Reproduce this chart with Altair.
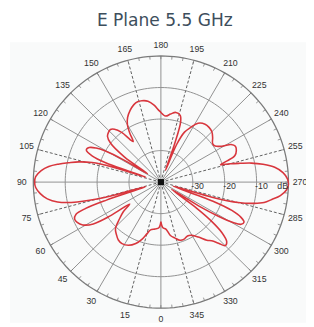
import altair as alt
import pandas as pd
import numpy as np

TITLE = "E Plane 5.5 GHz"

# radiation pattern: (angle deg, gain dB)
pattern_points = [
    (0, -27.5), (2.5, -25.5), (7, -25), (12, -24.5), (15, -23), (18, -21), (22, -19),
    (27, -17.5), (32, -17), (36, -17.3), (40, -18.3), (44, -19.5), (48, -22.5), (51.5, -25),
    (54.5, -28), (56, -21), (58, -15), (61, -12), (64, -10.8), (66.5, -10.5), (69, -11.5),
    (70.5, -15), (71.5, -22), (73, -35), (74.5, -22), (76.5, -13), (79, -7), (81.5, -4),
    (84.5, -2), (87.5, -0.7), (90, -0.4), (92.5, -0.7), (95.5, -2.3), (98, -4.5), (100, -7.3),
    (102, -10.5), (104, -13.5), (106, -17.5), (107.5, -24), (108.5, -35), (109.5, -22),
    (111, -17), (113.5, -14.5), (116, -15), (118, -17), (119.5, -20), (121, -26), (122.5, -35),
    (125, -26), (128, -20), (131, -17.8), (134, -17.2), (136.5, -17), (139, -17.8), (142, -20),
    (144.5, -23.5), (146, -24.5), (148, -21.5), (150, -19), (153, -17), (157, -15.3),
    (161, -14), (164, -13.5), (167, -13.5), (171, -14), (175, -15.5), (179, -17.5), (184, -19),
    (188, -18.2), (192, -17.4), (196, -18), (198, -20), (199.5, -27), (201, -36), (202.5, -27),
    (205, -22.5), (208, -20.5), (212, -18), (217, -17), (221, -17), (225, -17.4), (229, -18.5),
    (233, -19.7), (236, -19.5), (239.5, -17.5), (241.5, -15), (244, -14), (247, -14.3),
    (250, -15.3), (252, -18), (253.5, -20.5), (255, -17.5), (256.5, -14.5), (258, -11),
    (260, -7.5), (262.5, -4), (265.5, -1.6), (268.5, -0.3), (271, 0), (273.5, -0.5),
    (276.5, -2.3), (279, -4.8), (281.3, -7), (283, -10), (285, -15), (286.5, -22), (288.5, -36),
    (290.5, -22), (292, -16), (294, -12.5), (296, -11), (298, -11.5), (299.5, -14), (301, -19),
    (302.5, -26), (304.5, -36), (306.5, -26), (308, -20), (310, -15), (312.5, -12),
    (315, -11.5), (317, -13.5), (319.5, -15.5), (322, -16.6), (326, -19), (330, -20.5),
    (334, -21), (338, -20.5), (342, -20.6), (346, -21.7), (350, -22.8), (354, -25),
    (357.5, -25.5), (360, -27.5),
]
angles = [p[0] for p in pattern_points]
gains = [p[1] for p in pattern_points]

ring_db = [-30, -20, -10, 0]
ring_text = ["-30", "-20", "-10"]
unit_text = "dB"
spoke_angles = list(range(0, 360, 15))
dashed_spokes = [15, 75, 105, 165, 195, 255, 285, 345]
angle_text = [str(a) for a in spoke_angles]

DB_MIN, DB_MAX = -40.0, 0.0
W, H = 306, 319
CX, CY = 157.0, 174.5
RX, RY = 131.0, 129.5


def rnorm(db):
    return (np.asarray(db, dtype=float) - DB_MIN) / (DB_MAX - DB_MIN)


def to_xy(ang, rr):
    t = np.radians(np.asarray(ang, dtype=float))
    return -rr * np.sin(t), -rr * np.cos(t)


xs = alt.Scale(domain=[-CX / RX, (W - CX) / RX], range=[0, W], nice=False, zero=False)
ys = alt.Scale(domain=[-(H - CY) / RY, CY / RY], range=[H, 0], nice=False, zero=False)


def X(f="x"):
    return alt.X(f"{f}:Q", scale=xs, axis=None)


def Y(f="y"):
    return alt.Y(f"{f}:Q", scale=ys, axis=None)


# background
bg = alt.Chart(pd.DataFrame({"a": [0]})).mark_rect(color="#f9fafa").encode(
    x=alt.value(2), x2=alt.value(W), y=alt.value(31), y2=alt.value(H))

# rings
ring_rows = []
circ = np.arange(0, 361, 2)
for k, db in enumerate(ring_db):
    cx_, cy_ = to_xy(circ, rnorm(db))
    for j in range(len(circ)):
        ring_rows.append({"ring": k, "x": cx_[j], "y": cy_[j], "o": j, "outer": db == DB_MAX})
rings_df = pd.DataFrame(ring_rows)
rings_inner = alt.Chart(rings_df[~rings_df.outer]).mark_line(color="#8f8f8f", strokeWidth=1).encode(
    x=X(), y=Y(), detail="ring:N", order="o:Q")
ring_outer = alt.Chart(rings_df[rings_df.outer]).mark_line(color="#7a7a7a", strokeWidth=1.3).encode(
    x=X(), y=Y(), detail="ring:N", order="o:Q")

# spokes
sx, sy = to_xy(spoke_angles, 1.0)
spk = pd.DataFrame({"a": spoke_angles, "x": 0.0, "y": 0.0, "x2": sx, "y2": sy})
spk["dash"] = spk.a.isin(dashed_spokes)
spokes_solid = alt.Chart(spk[~spk.dash]).mark_rule(color="#8f8f8f", strokeWidth=1).encode(
    x=X(), y=Y(), x2="x2:Q", y2="y2:Q")
spokes_dash = alt.Chart(spk[spk.dash]).mark_rule(color="#4a4a4a", strokeWidth=0.9, strokeDash=[3, 2]).encode(
    x=X(), y=Y(), x2="x2:Q", y2="y2:Q")

# outer ticks
tick_ang = np.arange(0, 360, 5)
t1x, t1y = to_xy(tick_ang, 1.0)
t2x, t2y = to_xy(tick_ang, 0.975)
ticks = alt.Chart(pd.DataFrame({"x": t1x, "y": t1y, "x2": t2x, "y2": t2y})).mark_rule(
    color="#7a7a7a", strokeWidth=0.8).encode(x=X(), y=Y(), x2="x2:Q", y2="y2:Q")

# pattern
px, py = to_xy(angles, rnorm(gains))
pat = pd.DataFrame({"x": px, "y": py, "i": range(len(angles))})
pattern = alt.Chart(pat).mark_line(color="#d8363d", strokeWidth=1.6, interpolate="catmull-rom").encode(
    x=X(), y=Y(), order="i:Q")

# center
center = alt.Chart(pd.DataFrame({"x": [0.0], "y": [0.0]})).mark_square(
    color="#111111", size=40, opacity=1).encode(x=X(), y=Y())

# angle labels
lx, ly = to_xy(spoke_angles, 1.09)
alabels = alt.Chart(pd.DataFrame({"x": lx, "y": ly, "t": angle_text})).mark_text(
    font="Liberation Sans", fontSize=9, color="#333333", align="center", baseline="middle").encode(
    x=X(), y=Y(), text="t:N")

# ring labels
rx_, ry_ = to_xy([270] * 3, rnorm(ring_db[:3]))
rlabels = alt.Chart(pd.DataFrame({"x": rx_, "y": ry_, "t": ring_text})).mark_text(
    font="Liberation Sans", fontSize=9, color="#333333", align="center", baseline="middle", dx=5, dy=4).encode(
    x=X(), y=Y(), text="t:N")
ux, uy = to_xy([270], rnorm([DB_MAX]))
ulabel = alt.Chart(pd.DataFrame({"x": ux, "y": uy, "t": [unit_text]})).mark_text(
    font="Liberation Sans", fontSize=9, color="#333333", align="center", baseline="middle", dx=-6, dy=4).encode(
    x=X(), y=Y(), text="t:N")

title = alt.Chart(pd.DataFrame({"t": [TITLE]})).mark_text(
    font="DejaVu Sans", fontSize=17.5, color="#3d4e5c", align="center", baseline="alphabetic").encode(
    x=alt.value(161), y=alt.value(14), text="t:N")

chart = alt.layer(bg, spokes_solid, spokes_dash, rings_inner, ring_outer, ticks, pattern, center,
                  alabels, rlabels, ulabel, title).properties(
    width=W, height=H, autosize=alt.AutoSizeParams(type="none"), padding=0
).configure_view(stroke=None)

chart.save("out.html", embed_options={"renderer": "svg", "actions": False})
